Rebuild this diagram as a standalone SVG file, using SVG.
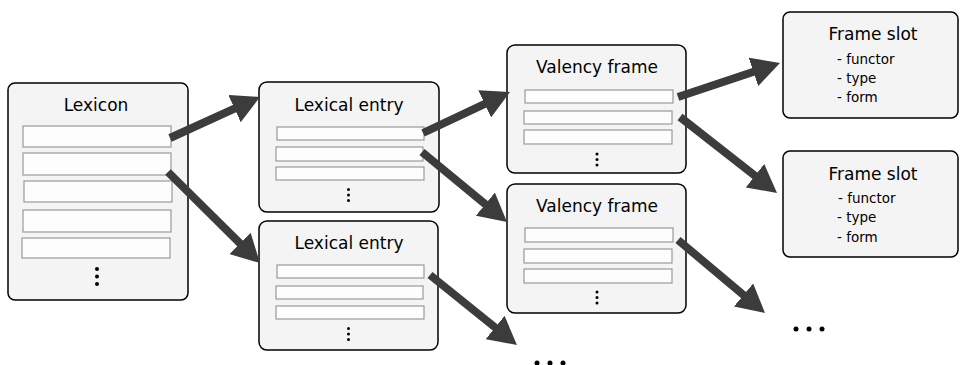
<svg xmlns="http://www.w3.org/2000/svg" width="960" height="365" viewBox="0 0 960 365">
<defs>
<style>
.box{fill:#f4f4f4;stroke:#000;stroke-width:1.5}
.row{fill:#fdfdfd;stroke:#999;stroke-width:1.2}
.title{font-family:"DejaVu Sans",sans-serif;font-size:17px;fill:#000;text-anchor:middle}
.item{font-family:"DejaVu Sans",sans-serif;font-size:13.5px;fill:#000}
.dot{fill:#000}
.arrow{stroke:#3c3c3c;stroke-width:8;fill:none;marker-end:url(#head)}
</style>
<marker id="head" viewBox="0 0 28 30" refX="12" refY="15" markerWidth="28" markerHeight="30" markerUnits="userSpaceOnUse" orient="auto">
<path d="M0,0 L28,15 L0,30 Z" fill="#3c3c3c"/>
</marker>
</defs>
<rect width="960" height="365" fill="#fff"/>

<g id="lexicon">
<rect class="box" x="8" y="83" width="180" height="217" rx="7"/>
<text class="title" x="96" y="111">Lexicon</text>
<rect class="row" x="23" y="126" width="148" height="21"/>
<rect class="row" x="23" y="153" width="148" height="22"/>
<rect class="row" x="24" y="181" width="148" height="21"/>
<rect class="row" x="23" y="210" width="148" height="22"/>
<rect class="row" x="22" y="238" width="148" height="20"/>
<circle class="dot" cx="97" cy="269" r="2"/>
<circle class="dot" cx="97" cy="276.5" r="2"/>
<circle class="dot" cx="97" cy="284" r="2"/>
</g>

<g id="lexical-entry-1">
<rect class="box" x="259" y="82" width="180" height="130" rx="8"/>
<text class="title" x="349" y="111">Lexical entry</text>
<rect class="row" x="277" y="127" width="147" height="13"/>
<rect class="row" x="276" y="147" width="147" height="14"/>
<rect class="row" x="276" y="167" width="148" height="13"/>
<circle class="dot" cx="348.5" cy="189.5" r="1.5"/>
<circle class="dot" cx="348.5" cy="195" r="1.5"/>
<circle class="dot" cx="348.5" cy="200.5" r="1.5"/>
</g>

<g id="lexical-entry-2">
<rect class="box" x="259" y="221" width="179" height="129" rx="8"/>
<text class="title" x="349" y="249">Lexical entry</text>
<rect class="row" x="277" y="265" width="147" height="13"/>
<rect class="row" x="276" y="286" width="147" height="13"/>
<rect class="row" x="276" y="306" width="148" height="13"/>
<circle class="dot" cx="348.5" cy="328.5" r="1.5"/>
<circle class="dot" cx="348.5" cy="334" r="1.5"/>
<circle class="dot" cx="348.5" cy="339.5" r="1.5"/>
</g>

<g id="valency-frame-1">
<rect class="box" x="507" y="45" width="179" height="128" rx="8"/>
<text class="title" x="597" y="73">Valency frame</text>
<rect class="row" x="525" y="90" width="148" height="13"/>
<rect class="row" x="524" y="111" width="148" height="13"/>
<rect class="row" x="524" y="130" width="148" height="14"/>
<circle class="dot" cx="597" cy="154" r="1.5"/>
<circle class="dot" cx="597" cy="159.5" r="1.5"/>
<circle class="dot" cx="597" cy="165" r="1.5"/>
</g>

<g id="valency-frame-2">
<rect class="box" x="507" y="184" width="179" height="129" rx="8"/>
<text class="title" x="597" y="212">Valency frame</text>
<rect class="row" x="525" y="228" width="148" height="14"/>
<rect class="row" x="524" y="249" width="148" height="14"/>
<rect class="row" x="524" y="269" width="148" height="14"/>
<circle class="dot" cx="597" cy="292" r="1.5"/>
<circle class="dot" cx="597" cy="297.5" r="1.5"/>
<circle class="dot" cx="597" cy="303" r="1.5"/>
</g>

<g id="frame-slot-1">
<rect class="box" x="783" y="12" width="175" height="106" rx="7"/>
<text class="title" x="873" y="40">Frame slot</text>
<text class="item" x="837" y="64">- functor</text>
<text class="item" x="837" y="83">- type</text>
<text class="item" x="837" y="102">- form</text>
</g>

<g id="frame-slot-2">
<rect class="box" x="783" y="151" width="175" height="106" rx="7"/>
<text class="title" x="873" y="180">Frame slot</text>
<text class="item" x="838" y="203">- functor</text>
<text class="item" x="837" y="222">- type</text>
<text class="item" x="837" y="242">- form</text>
</g>

<g id="ellipsis-right">
<circle class="dot" cx="796" cy="329" r="2.5"/>
<circle class="dot" cx="809" cy="329" r="2.5"/>
<circle class="dot" cx="822" cy="329" r="2.5"/>
</g>
<g id="ellipsis-bottom">
<circle class="dot" cx="537" cy="363" r="2.5"/>
<circle class="dot" cx="550" cy="363" r="2.5"/>
<circle class="dot" cx="563" cy="363" r="2.5"/>
</g>

<g id="connectors">
<line class="arrow" x1="170" y1="138" x2="245.4" y2="103.6"/>
<line class="arrow" x1="168" y1="172" x2="248.6" y2="251.8"/>
<line class="arrow" x1="423" y1="133" x2="495.5" y2="98.8"/>
<line class="arrow" x1="422" y1="152" x2="494.6" y2="211.8"/>
<line class="arrow" x1="430" y1="275" x2="504.5" y2="335"/>
<line class="arrow" x1="678" y1="97" x2="764.8" y2="68.1"/>
<line class="arrow" x1="680" y1="117" x2="764.4" y2="183.1"/>
<line class="arrow" x1="678" y1="240" x2="752.7" y2="302.7"/>
</g>
</svg>
